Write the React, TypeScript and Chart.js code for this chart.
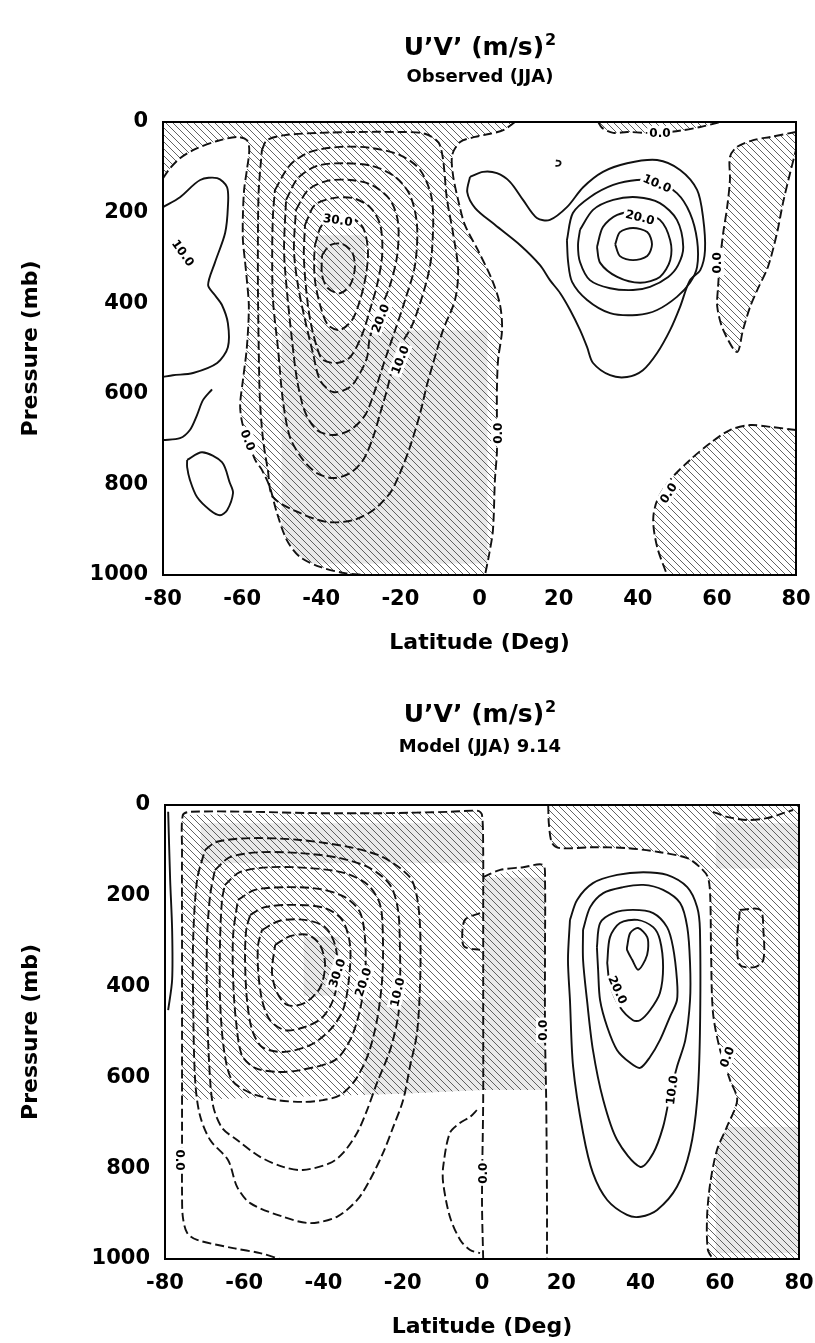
import React, { useEffect, useRef } from 'react';
import { Chart, registerables } from 'chart.js';

Chart.register(...registerables);

type Pt = [number, number]; // [latitude (deg), pressure (mb)]
type Box = [number, number, number, number]; // [lat0, p0, lat1, p1]

const latitudeTicks = [-80, -60, -40, -20, 0, 20, 40, 60, 80];
const latitudeTickLabels = ['-80', '-60', '-40', '-20', '0', '20', '40', '60', '80'];
const pressureTicks = [0, 200, 400, 600, 800, 1000];
const pressureTickLabels = ['0', '200', '400', '600', '800', '1000'];

// ---------- Observed (JJA) ----------
const obsZeroWest: Pt[] = [[-80,124],[-78.2,102],[-75.7,80],[-71.9,60],[-66.3,42],[-61.3,33],[-58.8,40],[-58.2,62],[-58.8,106],[-59.5,150],[-59.8,205],[-59.8,261],[-59.3,305],[-58.8,349],[-58.3,408],[-58.8,497],[-59.8,570],[-60.5,625],[-60,663],[-58.5,702],[-56.7,746],[-55,768],[-53,806],[-51.2,863],[-48.7,923],[-45.4,960],[-40.3,982],[-34,996],[-29,1000]];
const obsZeroEast: Pt[] = [[9,0],[6,18],[2.7,26],[-1.1,33],[-4.9,44],[-6.9,73],[-6.7,117],[-5.4,172],[-3.7,227],[-0.4,283],[3.2,349],[5.2,404],[5.7,459],[4.7,525],[4.4,592],[4.4,647],[4.4,690],[4.4,730],[3.9,790],[3.4,901],[2.4,956],[1.4,1000]];
const obsWest10: Pt[] = [[-80,188],[-75.7,166],[-70.6,128],[-66.3,124],[-63.8,144],[-63.6,188],[-64.3,245],[-66.9,311],[-68.6,360],[-66.9,382],[-65.1,404],[-63.6,444],[-63.6,497],[-66.3,532],[-72.4,554],[-77.5,559],[-80,563]];
const obsWestLow: Pt[] = [[-80,702],[-75.7,698],[-73.2,680],[-71.4,647],[-69.9,614],[-67.6,590]];
const obsWestIsland: Pt[] = [[-73.9,746],[-70.1,729],[-65.1,751],[-63.1,797],[-62.3,819],[-63.8,857],[-65.6,868],[-68.1,857],[-71.4,828],[-73.2,790],[-73.9,762],[-73.9,746]];
const obsNeg5: Pt[] = [[-55,62],[-53.7,40],[-49.2,29],[-40.3,24],[-30.2,22],[-21.9,22],[-13.8,26],[-10,51],[-8.2,172],[-6.7,245],[-5.4,327],[-6.2,393],[-9.2,459],[-11.7,532],[-13.3,581],[-15,643],[-17.6,718],[-20.1,775],[-22.6,819],[-26.9,857],[-32,879],[-38.5,883],[-45.4,863],[-52.2,828],[-53.5,768],[-54.7,702],[-55.5,614],[-55.8,503],[-56,371],[-56,245],[-55.8,150],[-55,62]];
const obsNeg10: Pt[] = [[-51.7,150],[-47.9,95],[-42.8,66],[-35.3,55],[-27.7,57],[-20.1,73],[-15,106],[-12,172],[-12,283],[-13.3,349],[-16.8,444],[-20.1,497],[-21.9,541],[-23.4,592],[-25.1,643],[-26.9,696],[-29.4,746],[-32.7,775],[-37,786],[-41.1,775],[-44.6,746],[-47.9,696],[-49.7,614],[-50.9,503],[-52.2,393],[-52.4,283],[-52.2,205],[-51.7,150]];
const obsNeg15: Pt[] = [[-48.9,172],[-45.9,124],[-41.1,97],[-34.3,91],[-27.2,97],[-21.3,121],[-17.6,161],[-15.8,227],[-16.3,316],[-18.8,393],[-21.3,459],[-23.9,525],[-26.4,592],[-28.9,647],[-32.7,680],[-37,691],[-41.1,680],[-44.1,640],[-46.1,570],[-47.4,481],[-48.7,371],[-49.4,283],[-48.9,172]];
const obsNeg20: Pt[] = [[-46.4,194],[-43.3,150],[-38.5,130],[-32.7,128],[-27.2,139],[-22.6,172],[-20.6,221],[-20.8,294],[-22.6,360],[-25.1,415],[-27.7,475],[-28.4,519],[-30.2,554],[-32.7,585],[-37,596],[-40.3,570],[-42.1,510],[-44.1,437],[-45.9,360],[-46.9,283],[-46.4,194]];
const obsNeg25: Pt[] = [[-44.1,227],[-41.6,183],[-37,168],[-32,168],[-27.7,188],[-25.1,227],[-24.6,294],[-25.9,360],[-27.7,415],[-29.7,470],[-32.7,519],[-36,532],[-39.6,525],[-41.1,497],[-42.8,437],[-43.8,371],[-44.4,294],[-44.1,227]];
const obsNeg30: Pt[] = [[-41.6,272],[-39.8,227],[-36,210],[-32.2,212],[-29.4,234],[-28.2,283],[-28.7,338],[-30.2,393],[-32.2,437],[-35.3,459],[-38.3,448],[-40.3,404],[-41.6,349],[-41.8,305],[-41.6,272]];
const obsNeg35: Pt[] = [[-39.8,294],[-37.8,272],[-34.8,269],[-32.2,287],[-31.5,322],[-32.7,360],[-35.3,378],[-38.3,367],[-39.8,338],[-39.8,294]];
const obsPos5: Pt[] = [[-2.4,121],[0.9,110],[4.4,113],[7.7,132],[11,172],[14.5,212],[17.8,216],[22.1,188],[26.2,144],[31.2,110],[37.3,91],[44.9,84],[50.7,106],[55,150],[56.5,210],[57,283],[55.8,327],[53.2,349],[50.7,408],[48.2,459],[44.9,510],[41.3,548],[37.3,563],[33,559],[28.7,532],[27.2,497],[25.4,459],[22.9,415],[20.4,378],[17.8,349],[15.3,316],[10.3,272],[3.9,227],[-1.1,190],[-3.1,155],[-2.4,121]];
const obsPos10: Pt[] = [[22.1,261],[23.6,201],[27.9,166],[33.8,139],[39.8,128],[44.9,132],[49.9,157],[53.2,201],[55,261],[55,320],[53.2,355],[49.9,386],[44.9,415],[39.8,426],[33,422],[27.2,393],[23.4,353],[22.4,309],[22.1,261]];
const obsPos15: Pt[] = [[25.4,238],[28.7,194],[33.8,172],[39.8,166],[45.6,179],[49.9,216],[51.5,276],[50.2,316],[47.7,342],[43.1,364],[38.8,371],[33,367],[27.9,349],[25.4,309],[24.9,272],[25.4,238]];
const obsPos20: Pt[] = [[29.7,276],[31.2,232],[34.8,205],[40.6,199],[45.6,216],[48.2,261],[48.2,305],[45.6,342],[40.6,355],[34.8,342],[30.5,311],[29.7,276]];
const obsPos25: Pt[] = [[34.3,270],[35.5,243],[38.8,234],[42.4,243],[43.6,270],[42.4,296],[38.8,305],[35.5,296],[34.3,270]];
const obsSmallHook: Pt[] = [[19.3,85],[20.2,86],[20.5,91],[20.1,96],[19.2,97]];
const obsTopPatch: Pt[] = [[30,0],[31,13],[33.8,24],[37.3,22],[41.9,24],[45.6,24],[51.5,18],[55.8,11],[60.1,2],[60.8,0]];
const obsEastBand: Pt[] = [[80,22],[73.5,33],[69.2,40],[65.1,55],[63.3,77],[63.3,128],[62.6,188],[61.6,245],[60.8,305],[60.3,364],[60.1,408],[61.6,459],[65.1,508],[66.6,459],[68.4,408],[70.2,371],[72.9,320],[75.2,245],[76.7,179],[78.5,113],[80,62]];
const obsSouthEast: Pt[] = [[80,680],[73.5,673],[68.4,669],[63.3,680],[58.3,709],[53.2,746],[48.2,790],[44.9,835],[43.9,879],[44.9,938],[47.4,1000]];
const obsTints: Box[] = [[-50, 460, 2, 975], [-41, 250, -29, 370]];

// ---------- Model (JJA) 9.14 ----------
const modZeroWest: Pt[] = [[0.3,1000],[0,870],[0.3,650],[0.3,430],[0.3,209],[0.3,99],[0,22],[-1,13],[-8.1,15],[-25,18],[-41.6,18],[-58.5,15],[-73.7,15],[-75.5,22],[-75.7,99],[-75.7,319],[-75.7,540],[-75.7,760],[-75.7,855],[-75.5,907],[-74.4,943],[-71.9,958],[-62.8,976],[-56,987],[-51,1000]];
const modZeroNotch: Pt[] = [[0.3,159],[4.6,143],[10.4,137],[15.4,132],[15.9,165],[15.9,319],[15.9,496],[16.2,650],[16.4,870],[16.4,1000]];
const modZeroEast: Pt[] = [[16.7,0],[16.9,44],[17.7,84],[19.7,95],[28,93],[36.6,95],[44.9,104],[51.8,117],[55,137],[57,159],[57.6,203],[57.8,319],[58.3,458],[60.1,540],[62.6,606],[64.4,650],[61.8,709],[59.3,760],[57.6,833],[56.8,907],[57,980],[58.3,1000]];
const modTopEdge: Pt[] = [[58.3,15],[61.8,26],[66.9,33],[71.9,29],[76,18],[78.5,11]];
const modEastBox: Pt[] = [[65.1,231],[70.2,231],[71,275],[71,341],[68.9,357],[65.1,352],[64.4,297],[65.1,231]];
const modNotchHook: Pt[] = [[-0.5,238],[-4.3,253],[-5,297],[-4.3,313],[-0.5,319]];
const modLens: Pt[] = [[-1.3,672],[-3,687],[-5.5,700],[-8.1,722],[-9.8,797],[-9.8,833],[-8.1,907],[-5.5,958],[-3,980],[-0.5,987]];
const modWestEdge: Pt[] = [[-79.2,15],[-78.7,165],[-78.2,275],[-78.2,385],[-79.2,452]];
const modNeg5: Pt[] = [[-69.9,99],[-66.9,81],[-58.5,73],[-45.9,77],[-33.3,93],[-25,115],[-18.2,159],[-16.4,203],[-15.6,275],[-15.6,385],[-16.4,502],[-18.2,577],[-19.9,650],[-22.4,709],[-25,767],[-28.3,826],[-31.5,870],[-36.6,907],[-43.4,921],[-50.2,907],[-58.5,877],[-61.8,841],[-64.1,782],[-68.6,738],[-71.2,683],[-72.4,606],[-72.9,430],[-72.9,297],[-71.9,165],[-69.9,99]];
const modNeg10: Pt[] = [[-67.4,143],[-63.6,115],[-56,104],[-45.9,106],[-35.8,117],[-28.3,139],[-23.2,176],[-21.2,231],[-20.7,319],[-20.7,407],[-21.2,467],[-23.2,540],[-26.5,612],[-29,672],[-31.5,722],[-35.1,767],[-38.4,789],[-45.2,804],[-50.2,797],[-56,775],[-61.8,738],[-65.6,711],[-67.9,661],[-68.9,562],[-69.4,430],[-69.4,297],[-68.6,198],[-67.4,143]];
const modNeg15: Pt[] = [[-64.9,176],[-61.1,148],[-53.5,137],[-43.4,139],[-34.6,150],[-28.8,176],[-25.7,220],[-25,297],[-25.2,385],[-26.5,474],[-28.8,551],[-32,606],[-35.8,639],[-40.1,650],[-45.2,654],[-51.7,650],[-58.5,634],[-63.1,606],[-65.1,540],[-66.1,430],[-66.1,297],[-65.6,209],[-64.9,176]];
const modNeg20: Pt[] = [[-61.6,209],[-57.3,187],[-49.7,181],[-40.9,185],[-34.6,203],[-30.8,236],[-29.5,297],[-29.5,374],[-30.8,452],[-33.3,518],[-37.1,562],[-45.9,584],[-51.7,588],[-57.3,579],[-60.6,551],[-62.1,474],[-62.8,385],[-62.8,286],[-61.6,209]];
const modNeg25: Pt[] = [[-58.5,242],[-54.8,225],[-47.2,220],[-39.6,227],[-35.3,253],[-33.3,308],[-33.6,385],[-35.1,452],[-38.4,496],[-43.4,529],[-50.2,544],[-55.5,533],[-58,496],[-59.3,430],[-59.8,341],[-59.5,275],[-58.5,242]];
const modNeg30: Pt[] = [[-55.5,275],[-51,255],[-44.7,253],[-39.6,269],[-37.1,308],[-36.3,374],[-37.6,430],[-40.4,469],[-44.7,489],[-49.7,496],[-53.5,474],[-55.5,430],[-56.5,363],[-56.5,308],[-55.5,275]];
const modNeg35: Pt[] = [[-52.2,308],[-48.4,289],[-43.9,286],[-40.9,308],[-39.6,352],[-40.9,403],[-44.7,436],[-49,441],[-51.7,414],[-53,368],[-52.2,308]];
const modPos5: Pt[] = [[22.2,253],[24,209],[28,172],[34.1,154],[40.7,148],[46.7,154],[51.8,181],[54.3,225],[55,275],[55,502],[54.3,650],[52.5,760],[49.2,841],[44.2,892],[39.9,907],[36.6,903],[31.6,870],[28,811],[25.5,722],[23,577],[22.2,430],[21.7,341],[22.2,253]];
const modPos10: Pt[] = [[25.5,275],[27.3,225],[30.6,194],[35.6,181],[40.7,176],[45.7,187],[50,216],[51.8,269],[52.5,348],[52.5,430],[51.3,518],[49.2,577],[47.4,640],[45.7,709],[43.2,767],[39.9,797],[34.1,738],[30.6,650],[28,540],[26.5,430],[25.5,341],[25.5,275]];
const modPos15: Pt[] = [[29,313],[29.8,260],[33.1,238],[38.1,231],[43.2,238],[46.7,269],[48.2,313],[49.2,385],[49.2,430],[47.4,467],[44.9,518],[42.4,555],[39.9,579],[37.4,568],[34.1,540],[31.6,489],[29.8,430],[29.3,363],[29,313]];
const modPos20: Pt[] = [[31.6,348],[32.3,291],[34.8,260],[39.2,253],[43.2,269],[44.9,297],[45.7,357],[44.9,414],[42.4,452],[39.9,474],[38.1,474],[34.8,445],[32.3,396],[31.6,348]];
const modPos25: Pt[] = [[36.6,313],[37.4,282],[39.4,271],[41.7,291],[41.9,319],[41.2,341],[39.4,363],[37.9,341],[36.6,319],[36.6,313]];
const modWestShade: Pt[] = [[-75.7,22],[-1,13],[0.3,40],[0.3,628],[-20,636],[-45,642],[-75.7,650]];
const modNotchShade: Pt[] = [[0.3,159],[15.4,132],[15.9,165],[15.9,628],[0.3,628]];
const modTints: Box[] = [[-71, 40, 0.3, 128], [-30, 430, 0.3, 640], [0.3, 160, 16, 640], [59, 709, 80, 987], [59, 40, 80, 140], [-45, 290, -36, 420]];

interface ContourLine { pts: Pt[]; dashed: boolean }
interface ContourLabel { text: string; at: Pt; angle: number }
interface PanelSpec {
  subtitle: string;
  lines: ContourLine[];
  shaded: Pt[][];
  tints: Box[];
  labels: ContourLabel[];
  box: { left: number; top: number; right: number; bottom: number; height: number; titleX: number; titleBase: number; subBase: number };
}

const solid = (pts: Pt[]): ContourLine => ({ pts, dashed: false });
const dashed = (pts: Pt[]): ContourLine => ({ pts, dashed: true });

const observedPanel: PanelSpec = {
  subtitle: 'Observed (JJA)',
  lines: [
    dashed(obsZeroWest), dashed(obsZeroEast), solid(obsWest10), solid(obsWestLow), solid(obsWestIsland),
    dashed(obsNeg5), dashed(obsNeg10), dashed(obsNeg15), dashed(obsNeg20), dashed(obsNeg25), dashed(obsNeg30), dashed(obsNeg35),
    solid(obsPos5), solid(obsPos10), solid(obsPos15), solid(obsPos20), solid(obsPos25), solid(obsSmallHook),
    dashed(obsTopPatch), dashed(obsEastBand), dashed(obsSouthEast),
  ],
  shaded: [
    [[-80, 0], ...obsZeroEast, ...[...obsZeroWest].reverse()],
    obsTopPatch,
    obsEastBand,
    [...obsSouthEast, [80, 1000]],
  ],
  tints: obsTints,
  labels: [
    { text: '10.0', at: [-74.9, 289], angle: 0.95 },
    { text: '0.0', at: [-58.5, 702], angle: 1.2 },
    { text: '30.0', at: [-35.8, 216], angle: 0.15 },
    { text: '20.0', at: [-25.1, 433], angle: -1.2 },
    { text: '10.0', at: [-20.1, 525], angle: -1.2 },
    { text: '0.0', at: [4.7, 687], angle: -1.5708 },
    { text: '0.0', at: [45.6, 24], angle: 0 },
    { text: '10.0', at: [44.9, 135], angle: 0.4 },
    { text: '20.0', at: [40.6, 210], angle: 0.25 },
    { text: '0.0', at: [60.1, 311], angle: -1.5708 },
    { text: '0.0', at: [47.7, 819], angle: -1.0 },
  ],
  box: { left: 163, top: 122, right: 796, bottom: 575, height: 680, titleX: 480, titleBase: 55, subBase: 82 },
};

const modelPanel: PanelSpec = {
  subtitle: 'Model (JJA) 9.14',
  lines: [
    dashed(modZeroWest), dashed(modZeroNotch), dashed(modZeroEast), dashed(modTopEdge), dashed(modEastBox),
    dashed(modNotchHook), dashed(modLens), solid(modWestEdge),
    dashed(modNeg5), dashed(modNeg10), dashed(modNeg15), dashed(modNeg20), dashed(modNeg25), dashed(modNeg30), dashed(modNeg35),
    solid(modPos5), solid(modPos10), solid(modPos15), solid(modPos20), solid(modPos25),
  ],
  shaded: [
    modWestShade,
    modNotchShade,
    [...modZeroEast, [80, 1000], [80, 0]],
  ],
  tints: modTints,
  labels: [
    { text: '0.0', at: [-76.2, 782], angle: 1.5708 },
    { text: '30.0', at: [-36.6, 370], angle: -1.25 },
    { text: '20.0', at: [-30, 390], angle: -1.25 },
    { text: '10.0', at: [-21.4, 412], angle: -1.35 },
    { text: '0.0', at: [0.3, 811], angle: -1.5708 },
    { text: '0.0', at: [15.4, 496], angle: -1.5708 },
    { text: '20.0', at: [34.3, 407], angle: 1.15 },
    { text: '10.0', at: [47.9, 628], angle: -1.45 },
    { text: '0.0', at: [61.8, 555], angle: -1.2 },
  ],
  box: { left: 165, top: 125, right: 799, bottom: 579, height: 663, titleX: 480, titleBase: 42, subBase: 72 },
};

const FONT = '"DejaVu Sans", "Liberation Sans", sans-serif';
const X_AXIS_HEIGHT = 95;
const TICK_SIZE = 21;
const TICK_PAD = 1;

function makePanel(canvas: HTMLCanvasElement, spec: PanelSpec): Chart {
  const { box } = spec;

  const hatchPlugin = {
    id: 'hatchShading',
    beforeDatasetsDraw(chart: Chart) {
      const { ctx, chartArea } = chart;
      const xs = chart.scales.x;
      const ys = chart.scales.y;
      const px = (lat: number) => xs.getPixelForValue(lat);
      const py = (p: number) => ys.getPixelForValue(p);
      ctx.save();
      ctx.beginPath();
      ctx.rect(chartArea.left, chartArea.top, chartArea.right - chartArea.left, chartArea.bottom - chartArea.top);
      ctx.clip();
      for (const poly of spec.shaded) {
        ctx.save();
        ctx.beginPath();
        poly.forEach(([lat, p], i) => {
          if (i === 0) ctx.moveTo(px(lat), py(p)); else ctx.lineTo(px(lat), py(p));
        });
        ctx.closePath();
        ctx.clip();
        // halftone tint inside the shaded area
        ctx.fillStyle = '#e9e9e9';
        for (const [a, b, c, d] of spec.tints) {
          ctx.fillRect(px(a), py(b), px(c) - px(a), py(d) - py(b));
        }
        ctx.strokeStyle = '#474747';
        ctx.lineWidth = 0.85;
        const h = chartArea.bottom - chartArea.top;
        ctx.beginPath();
        for (let k = -h; k < chartArea.right - chartArea.left; k += 7) {
          ctx.moveTo(chartArea.left + k, chartArea.top);
          ctx.lineTo(chartArea.left + k + h, chartArea.bottom);
        }
        ctx.stroke();
        ctx.restore();
      }
      ctx.restore();
    },
  };

  const overlayPlugin = {
    id: 'frameAndLabels',
    afterDatasetsDraw(chart: Chart) {
      const { ctx, chartArea } = chart;
      const xs = chart.scales.x;
      const ys = chart.scales.y;
      ctx.save();
      ctx.font = `bold 12px ${FONT}`;
      ctx.textAlign = 'center';
      ctx.textBaseline = 'middle';
      for (const lab of spec.labels) {
        const lx = xs.getPixelForValue(lab.at[0]);
        const ly = ys.getPixelForValue(lab.at[1]);
        ctx.save();
        ctx.translate(lx, ly);
        ctx.rotate(lab.angle);
        const w = ctx.measureText(lab.text).width + 4;
        ctx.fillStyle = '#fff';
        ctx.fillRect(-w / 2, -7, w, 14);
        ctx.fillStyle = '#000';
        ctx.fillText(lab.text, 0, 1);
        ctx.restore();
      }
      ctx.strokeStyle = '#000';
      ctx.lineWidth = 2;
      ctx.strokeRect(chartArea.left, chartArea.top, chartArea.right - chartArea.left, chartArea.bottom - chartArea.top);
      ctx.restore();
    },
    afterDraw(chart: Chart) {
      const { ctx } = chart;
      ctx.save();
      ctx.fillStyle = '#000';
      ctx.textBaseline = 'alphabetic';
      ctx.textAlign = 'left';
      const main = 'U\u2019V\u2019 (m/s)';
      ctx.font = `bold 25px ${FONT}`;
      const w1 = ctx.measureText(main).width;
      ctx.font = `bold 16px ${FONT}`;
      const w2 = ctx.measureText('2').width;
      const start = box.titleX - (w1 + w2 + 1) / 2;
      ctx.font = `bold 25px ${FONT}`;
      ctx.fillText(main, start, box.titleBase);
      ctx.font = `bold 16px ${FONT}`;
      ctx.fillText('2', start + w1 + 1, box.titleBase - 10);
      ctx.font = `bold 18px ${FONT}`;
      ctx.textAlign = 'center';
      ctx.fillText(spec.subtitle, box.titleX, box.subBase);
      ctx.restore();
    },
  };

  const xTickFont = { family: FONT, weight: 'bold' as const, size: TICK_SIZE, lineHeight: (50 - 2 * TICK_PAD) / TICK_SIZE };
  const yTickFont = { family: FONT, weight: 'bold' as const, size: TICK_SIZE };
  const titleFont = { family: FONT, weight: 'bold' as const, size: 22 };

  return new Chart(canvas, {
    type: 'scatter',
    data: {
      datasets: spec.lines.map((l) => ({
        data: l.pts.map(([x, y]) => ({ x, y })),
        showLine: true,
        borderColor: '#111',
        borderWidth: 1.9,
        borderDash: l.dashed ? [9, 4] : [],
        pointRadius: 0,
        pointHoverRadius: 0,
        tension: 0.3,
        fill: false,
      })),
    },
    options: {
      responsive: false,
      animation: false,
      events: [],
      layout: {
        padding: { left: 0, top: box.top, right: 815 - box.right, bottom: box.height - box.bottom - X_AXIS_HEIGHT },
      },
      plugins: { legend: { display: false }, tooltip: { enabled: false }, title: { display: false } },
      scales: {
        x: {
          type: 'linear',
          min: -80,
          max: 80,
          afterBuildTicks: (s: any) => { s.ticks = latitudeTicks.map((v) => ({ value: v })); },
          afterFit: (s: any) => { s.height = X_AXIS_HEIGHT; },
          ticks: {
            autoSkip: false,
            maxRotation: 0,
            padding: TICK_PAD,
            color: '#000',
            font: xTickFont,
            callback: (_v: any, i: number) => latitudeTickLabels[i],
          },
          grid: { display: false, drawTicks: false, tickLength: 0 },
          border: { display: false },
          title: { display: true, text: 'Latitude (Deg)', color: '#000', font: titleFont, padding: { top: 0, bottom: 14 } },
        },
        y: {
          type: 'linear',
          reverse: true,
          min: 0,
          max: 1000,
          afterBuildTicks: (s: any) => { s.ticks = pressureTicks.map((v) => ({ value: v })); },
          afterFit: (s: any) => { s.width = box.left; },
          ticks: {
            autoSkip: false,
            padding: 15,
            color: '#000',
            font: yTickFont,
            callback: (_v: any, i: number) => pressureTickLabels[i],
          },
          grid: { display: false, drawTicks: false, tickLength: 0 },
          border: { display: false },
          title: { display: true, text: 'Pressure (mb)', color: '#000', font: titleFont, padding: { top: 18, bottom: 0 } },
        },
      },
    } as any,
    plugins: [hatchPlugin, overlayPlugin],
  });
}

export default function App() {
  const topRef = useRef<HTMLCanvasElement>(null);
  const bottomRef = useRef<HTMLCanvasElement>(null);

  useEffect(() => {
    const charts: Chart[] = [];
    if (topRef.current) charts.push(makePanel(topRef.current, observedPanel));
    if (bottomRef.current) charts.push(makePanel(bottomRef.current, modelPanel));
    return () => charts.forEach((c) => c.destroy());
  }, []);

  return (
    <div style={{ position: 'absolute', left: 0, top: 0, width: 815, height: 1343, background: '#fff' }}>
      <canvas ref={topRef} width={815} height={680} style={{ position: 'absolute', left: 0, top: 0 }} />
      <canvas ref={bottomRef} width={815} height={663} style={{ position: 'absolute', left: 0, top: 680 }} />
    </div>
  );
}
